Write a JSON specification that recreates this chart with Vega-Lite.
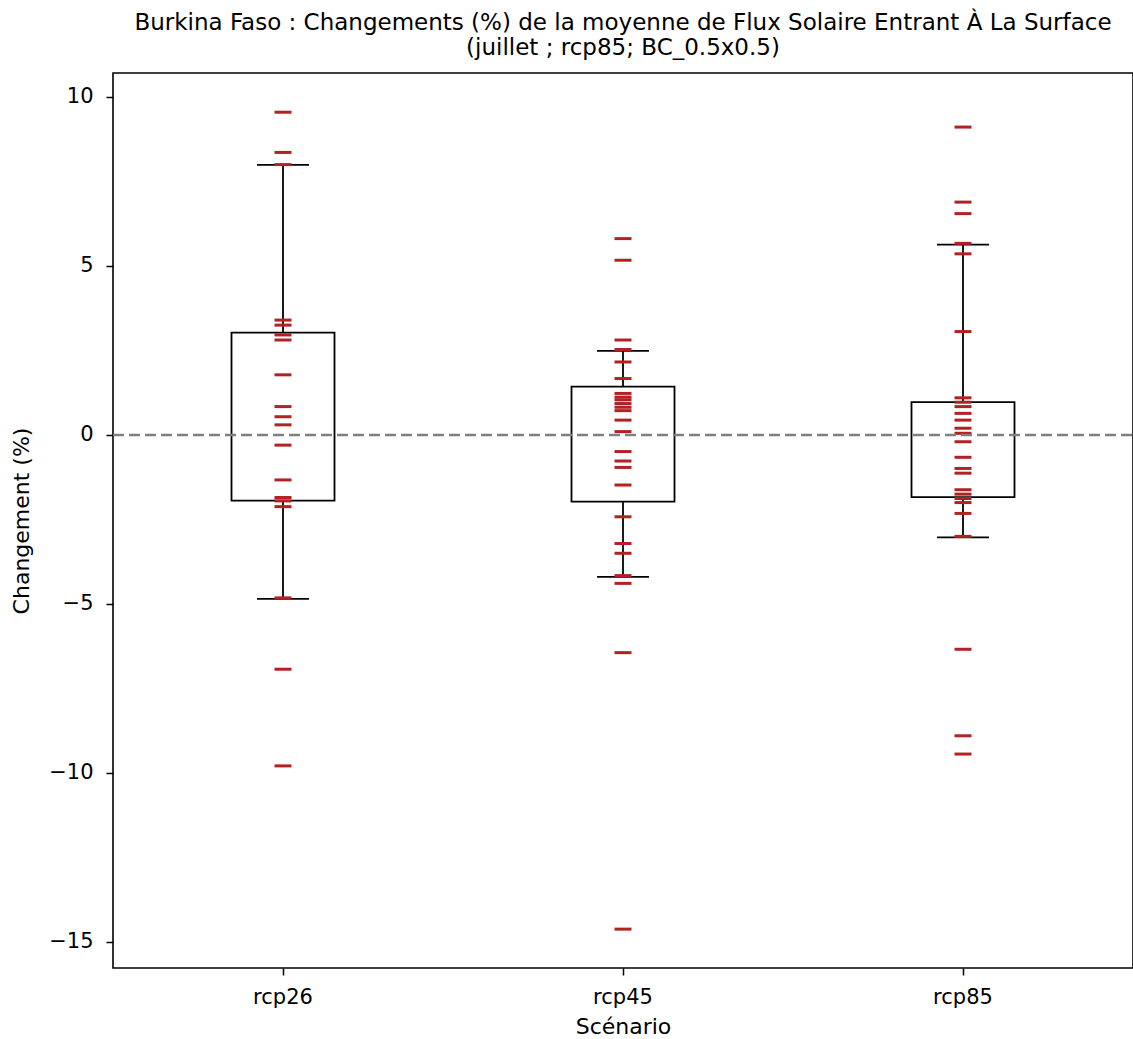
{
  "$schema": "https://vega.github.io/schema/vega-lite/v6.json",
  "width": 1020,
  "height": 895,
  "autosize": {"type": "none"},
  "padding": {"left": 113, "top": 73, "right": 0, "bottom": 71},
  "background": "white",
  "title": {
    "text": ["Burkina Faso : Changements (%) de la moyenne de Flux Solaire Entrant À La Surface", "(juillet ; rcp85; BC_0.5x0.5)"],
    "font": "DejaVu Sans", "fontSize": 23, "fontWeight": "normal", "color": "black",
    "anchor": "middle", "offset": 13, "lineHeight": 25
  },
  "config": {
    "view": {"stroke": "black", "strokeWidth": 1.6},
    "axis": {
      "labelFont": "DejaVu Sans", "labelFontSize": 21, "labelColor": "black",
      "titleFont": "DejaVu Sans", "titleFontSize": 22, "titleFontWeight": "normal", "titleColor": "black",
      "tickColor": "black", "tickSize": 7, "tickWidth": 1.5, "domain": false, "grid": false
    }
  },
  "datasets": {
    "pts": [
      {"scenario": "rcp26", "value": 9.55}, {"scenario": "rcp26", "value": 8.36}, {"scenario": "rcp26", "value": 8.0},
      {"scenario": "rcp26", "value": 3.40}, {"scenario": "rcp26", "value": 3.25}, {"scenario": "rcp26", "value": 2.96},
      {"scenario": "rcp26", "value": 2.81}, {"scenario": "rcp26", "value": 1.78}, {"scenario": "rcp26", "value": 0.84},
      {"scenario": "rcp26", "value": 0.54}, {"scenario": "rcp26", "value": 0.30}, {"scenario": "rcp26", "value": -0.30},
      {"scenario": "rcp26", "value": -1.33}, {"scenario": "rcp26", "value": -1.85}, {"scenario": "rcp26", "value": -1.95},
      {"scenario": "rcp26", "value": -2.12}, {"scenario": "rcp26", "value": -4.82}, {"scenario": "rcp26", "value": -6.93},
      {"scenario": "rcp26", "value": -9.79},
      {"scenario": "rcp45", "value": 5.81}, {"scenario": "rcp45", "value": 5.17}, {"scenario": "rcp45", "value": 2.81},
      {"scenario": "rcp45", "value": 2.53}, {"scenario": "rcp45", "value": 2.16}, {"scenario": "rcp45", "value": 1.67},
      {"scenario": "rcp45", "value": 1.23}, {"scenario": "rcp45", "value": 1.12}, {"scenario": "rcp45", "value": 1.04},
      {"scenario": "rcp45", "value": 0.93}, {"scenario": "rcp45", "value": 0.82}, {"scenario": "rcp45", "value": 0.72},
      {"scenario": "rcp45", "value": 0.44}, {"scenario": "rcp45", "value": 0.10}, {"scenario": "rcp45", "value": -0.49},
      {"scenario": "rcp45", "value": -0.77}, {"scenario": "rcp45", "value": -0.96}, {"scenario": "rcp45", "value": -1.48},
      {"scenario": "rcp45", "value": -2.42}, {"scenario": "rcp45", "value": -3.21}, {"scenario": "rcp45", "value": -3.50},
      {"scenario": "rcp45", "value": -4.16}, {"scenario": "rcp45", "value": -4.39}, {"scenario": "rcp45", "value": -6.44},
      {"scenario": "rcp45", "value": -14.62},
      {"scenario": "rcp85", "value": 9.11}, {"scenario": "rcp85", "value": 6.89}, {"scenario": "rcp85", "value": 6.55},
      {"scenario": "rcp85", "value": 5.67}, {"scenario": "rcp85", "value": 5.36}, {"scenario": "rcp85", "value": 3.06},
      {"scenario": "rcp85", "value": 1.10}, {"scenario": "rcp85", "value": 0.97}, {"scenario": "rcp85", "value": 0.84},
      {"scenario": "rcp85", "value": 0.64}, {"scenario": "rcp85", "value": 0.44}, {"scenario": "rcp85", "value": 0.20},
      {"scenario": "rcp85", "value": 0.05}, {"scenario": "rcp85", "value": -0.20}, {"scenario": "rcp85", "value": -0.66},
      {"scenario": "rcp85", "value": -0.99}, {"scenario": "rcp85", "value": -1.13}, {"scenario": "rcp85", "value": -1.62},
      {"scenario": "rcp85", "value": -1.75}, {"scenario": "rcp85", "value": -1.88}, {"scenario": "rcp85", "value": -2.00},
      {"scenario": "rcp85", "value": -2.32}, {"scenario": "rcp85", "value": -3.00}, {"scenario": "rcp85", "value": -6.34},
      {"scenario": "rcp85", "value": -8.90}, {"scenario": "rcp85", "value": -9.44}
    ],
    "stats": [
      {"scenario": "rcp26", "lo": -4.85, "q1": -1.94, "q3": 3.03, "hi": 7.99},
      {"scenario": "rcp45", "lo": -4.20, "q1": -1.97, "q3": 1.43, "hi": 2.49},
      {"scenario": "rcp85", "lo": -3.03, "q1": -1.84, "q3": 0.97, "hi": 5.63}
    ],
    "zero": [{"z": 0}]
  },
  "encoding": {
    "x": {
      "field": "scenario", "type": "nominal",
      "scale": {"domain": ["rcp26", "rcp45", "rcp85"], "paddingInner": 0, "paddingOuter": 0},
      "axis": {"title": "Scénario", "labelAngle": 0, "labelPadding": 11, "titlePadding": 9}
    }
  },
  "layer": [
    {
      "data": {"name": "stats"},
      "mark": {"type": "bar", "size": 103, "fill": null, "fillOpacity": 0, "stroke": "black", "strokeWidth": 1.8},
      "encoding": {
        "y": {"field": "q1", "type": "quantitative",
          "scale": {"domain": [-15.77, 10.71], "nice": false, "zero": false},
          "axis": {"title": "Changement (%)", "values": [-15, -10, -5, 0, 5, 10], "labelExpr": "replace(datum.label, '-', '−')", "titlePadding": 15, "labelPadding": 13}},
        "y2": {"field": "q3"}
      }
    },
    {
      "data": {"name": "stats"},
      "mark": {"type": "rule", "color": "black", "strokeWidth": 1.8},
      "encoding": {"y": {"field": "lo", "type": "quantitative"}, "y2": {"field": "q1"}}
    },
    {
      "data": {"name": "stats"},
      "mark": {"type": "rule", "color": "black", "strokeWidth": 1.8},
      "encoding": {"y": {"field": "q3", "type": "quantitative"}, "y2": {"field": "hi"}}
    },
    {
      "data": {"name": "stats"},
      "mark": {"type": "tick", "color": "black", "size": 52, "thickness": 1.8, "opacity": 1},
      "encoding": {"y": {"field": "lo", "type": "quantitative"}}
    },
    {
      "data": {"name": "stats"},
      "mark": {"type": "tick", "color": "black", "size": 52, "thickness": 1.8, "opacity": 1},
      "encoding": {"y": {"field": "hi", "type": "quantitative"}}
    },
    {
      "data": {"name": "pts"},
      "mark": {"type": "tick", "color": "#b22222", "size": 17, "thickness": 3, "opacity": 1},
      "encoding": {"y": {"field": "value", "type": "quantitative"}}
    },
    {
      "data": {"name": "zero"},
      "mark": {"type": "rule", "color": "#808080", "strokeWidth": 2.5, "strokeDash": [11, 5]},
      "encoding": {"y": {"field": "z", "type": "quantitative"}, "x": {"value": 0}, "x2": {"value": 1020}}
    }
  ]
}
